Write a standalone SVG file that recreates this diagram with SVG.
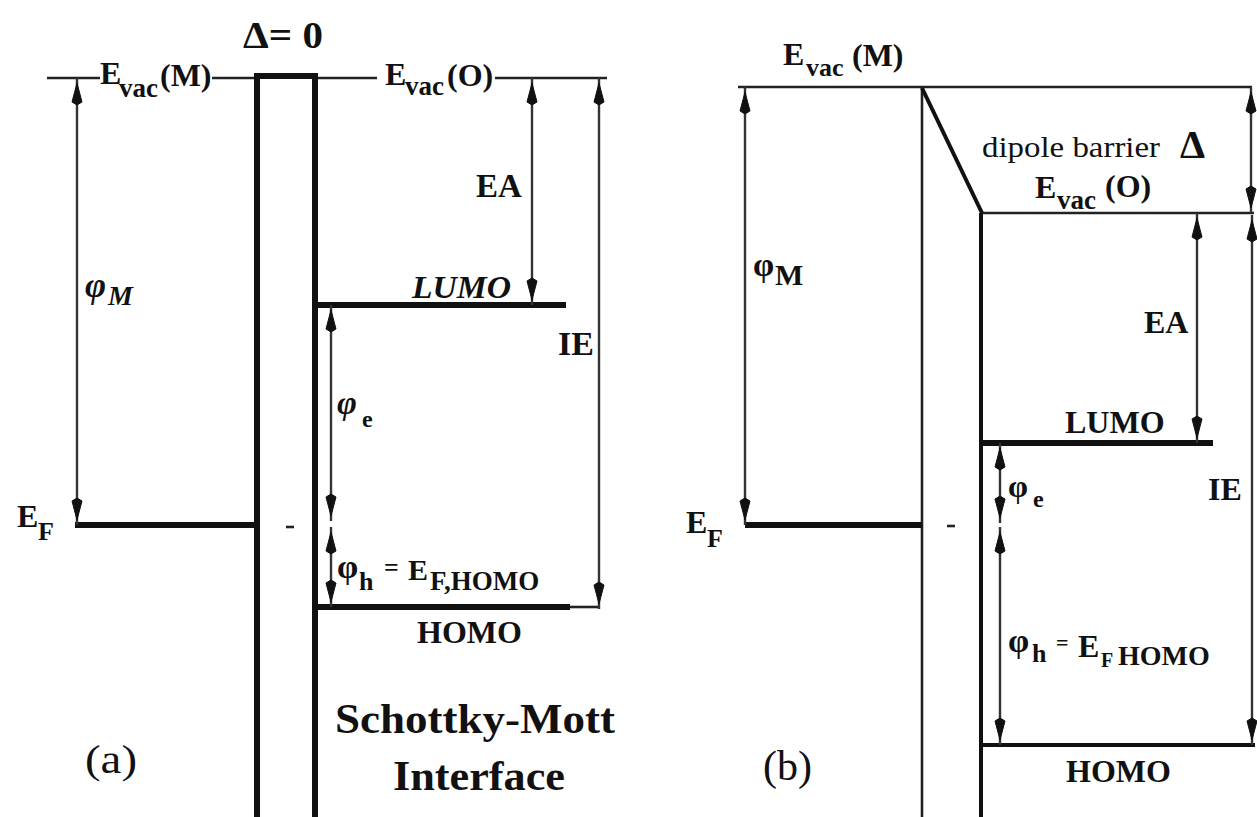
<svg xmlns="http://www.w3.org/2000/svg" width="1257" height="817" viewBox="0 0 1257 817">
<style>
text{font-family:"Liberation Serif","Tinos","Times New Roman","DejaVu Serif",serif;fill:#111}
.b{font-weight:bold}
.i{font-style:italic}
.thick{fill:none;stroke:#111;stroke-width:6}
.mid{fill:none;stroke:#111;stroke-width:4}
.thin{fill:none;stroke:#222;stroke-width:2.6}
.arr{fill:none;stroke:#333;stroke-width:2.4;marker-start:url(#ah);marker-end:url(#ah)}
</style>
<defs>
<marker id="ah" viewBox="0 0 30 12" refX="30" refY="6" markerWidth="30" markerHeight="12" markerUnits="userSpaceOnUse" orient="auto-start-reverse">
<path d="M25,6 L6,1 L3,6 L6,11 Z" fill="#111" stroke="#111" stroke-width="1"/>
</marker>
</defs>
<rect width="1257" height="817" fill="#fff"/>

<!-- Panel (a) -->
<g id="a-levels">
<path class="thin" d="M47,78 H100 M212,78 H257 M315,78 H377 M495,78 H607"/>
<path class="thick" d="M257,817 V76 H315 V817"/>
<path class="thick" d="M75,525 H257" stroke-width="5"/>
<path class="thick" d="M315,305 H566"/>
<path class="thick" d="M315,607 H570" stroke-width="5"/>
<path class="thin" d="M570,607 H600"/>
<path class="thin" d="M286,527 H294"/>
</g>
<g id="a-arrows">
<path class="arr" d="M77,78 V525"/>
<path class="arr" d="M532,78 V305"/>
<path class="arr" d="M599,78 V609"/>
<path class="arr" d="M331,305 V521"/>
<path class="arr" d="M331,527 V607"/>
</g>
<g id="a-labels">
<text class="b" x="243" y="48" font-size="38" textLength="80" lengthAdjust="spacingAndGlyphs">Δ= 0</text>
<text class="b"><tspan x="100" y="84" font-size="32">E</tspan><tspan x="119" y="97" font-size="27">vac</tspan><tspan x="160" y="86" font-size="32">(M)</tspan></text>
<text class="b"><tspan x="385" y="85" font-size="32">E</tspan><tspan x="405" y="95" font-size="27">vac</tspan><tspan x="447" y="86" font-size="32">(O)</tspan></text>
<text class="b i"><tspan x="85" y="297" font-size="36">φ</tspan><tspan x="108" y="305" font-size="28">M</tspan></text>
<text class="b"><tspan x="17" y="527" font-size="32">E</tspan><tspan x="38" y="540" font-size="26">F</tspan></text>
<text class="b" x="476" y="197" font-size="33">EA</text>
<text class="b i" x="412" y="298" font-size="32" textLength="99" lengthAdjust="spacingAndGlyphs">LUMO</text>
<text class="b" x="558" y="355" font-size="34">IE</text>
<text class="b"><tspan x="337" y="414" font-size="34" class="i">φ</tspan><tspan x="362" y="427" font-size="24">e</tspan></text>
<text class="b"><tspan x="337" y="578" font-size="34">φ</tspan><tspan x="359" y="590" font-size="26">h</tspan><tspan x="384" y="576" font-size="26">=</tspan><tspan x="408" y="580" font-size="30">E</tspan><tspan x="430" y="590" font-size="27">F,HOMO</tspan></text>
<text class="b" x="417" y="643" font-size="32">HOMO</text>
<text class="b" x="335" y="733" font-size="42" textLength="280" lengthAdjust="spacingAndGlyphs">Schottky-Mott</text>
<text class="b" x="393" y="790" font-size="42" textLength="172" lengthAdjust="spacingAndGlyphs">Interface</text>
<text x="85" y="773" font-size="40" textLength="52" lengthAdjust="spacingAndGlyphs">(a)</text>
</g>

<!-- Panel (b) -->
<g id="b-levels">
<path class="thin" d="M738,87 H1252" stroke-width="3"/>
<path class="thin" d="M922,87 V817" stroke-width="3.2"/>
<path class="mid" d="M922,88 L982,213"/>
<path class="thin" d="M982,213 H1254" stroke-width="3"/>
<path class="mid" d="M981,213 V817"/>
<path class="thick" d="M745,525 H922" stroke-width="5"/>
<path class="thick" d="M981,443 H1213"/>
<path class="mid" d="M981,745 H1255"/>
<path class="thin" d="M947,526 H955"/>
</g>
<g id="b-arrows">
<path class="arr" d="M745,87 V525"/>
<path class="arr" d="M1251,87 V213"/>
<path class="arr" d="M1197,213 V443"/>
<path class="arr" d="M1252,215 V745"/>
<path class="arr" d="M1000,443 V523"/>
<path class="arr" d="M1000,527 V745"/>
</g>
<g id="b-labels">
<text class="b"><tspan x="783" y="65" font-size="32">E</tspan><tspan x="806" y="76" font-size="26">vac</tspan><tspan x="852" y="66" font-size="32">(M)</tspan></text>
<text x="982" y="157" font-size="30" textLength="178" lengthAdjust="spacingAndGlyphs">dipole barrier</text>
<text class="b" x="1180" y="158" font-size="40">Δ</text>
<text class="b"><tspan x="1035" y="198" font-size="32">E</tspan><tspan x="1057" y="209" font-size="27">vac</tspan><tspan x="1105" y="197" font-size="32">(O)</tspan></text>
<text class="b"><tspan x="753" y="276" font-size="34">φ</tspan><tspan x="775" y="285" font-size="30">M</tspan></text>
<text class="b"><tspan x="686" y="533" font-size="32">E</tspan><tspan x="707" y="547" font-size="26">F</tspan></text>
<text class="b" x="1144" y="333" font-size="32">EA</text>
<text class="b" x="1065" y="433" font-size="32">LUMO</text>
<text class="b" x="1208" y="500" font-size="32">IE</text>
<text class="b"><tspan x="1008" y="497" font-size="32">φ</tspan><tspan x="1033" y="507" font-size="24">e</tspan></text>
<text class="b"><tspan x="1008" y="652" font-size="34">φ</tspan><tspan x="1032" y="662" font-size="26">h</tspan><tspan x="1056" y="650" font-size="22">=</tspan><tspan x="1078" y="657" font-size="32">E</tspan><tspan x="1101" y="667" font-size="20">F</tspan><tspan x="1118" y="665" font-size="28">HOMO</tspan></text>
<text class="b" x="1066" y="782" font-size="32">HOMO</text>
<text x="763" y="780" font-size="42">(b)</text>
</g>
</svg>
